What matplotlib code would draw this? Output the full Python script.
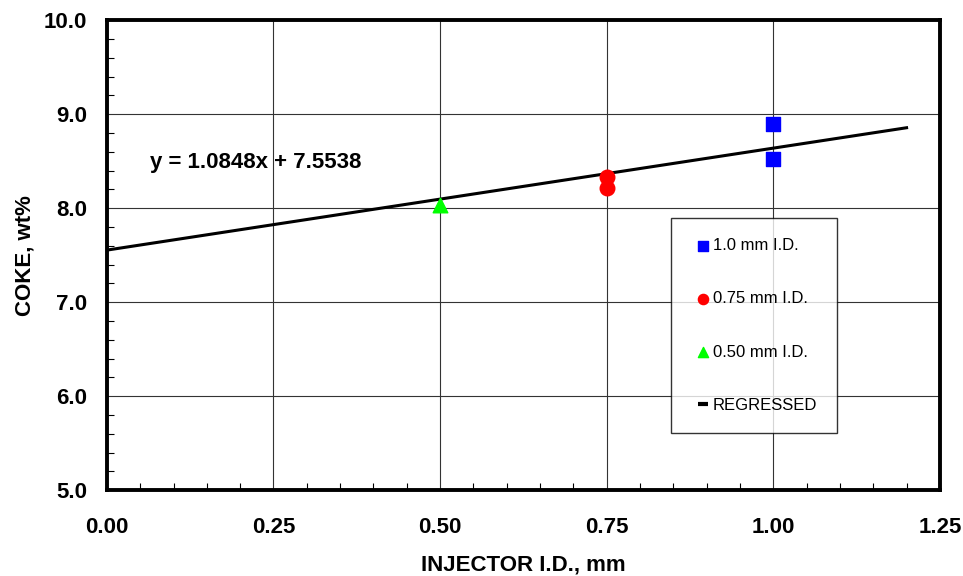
import numpy as np
import matplotlib
matplotlib.use("Agg")
from matplotlib import pyplot as plt
from matplotlib.lines import Line2D
from matplotlib.ticker import MultipleLocator

plt.rcParams['font.family'] = ['Liberation Sans', 'DejaVu Sans']

# coke yield by injector diameter
x_10 = [1.0, 1.0]
y_10 = [8.90, 8.52]
x_075 = [0.75, 0.75]
y_075 = [8.33, 8.21]
x_050 = [0.50]
y_050 = [8.03]

slope = 1.0848
intercept = 7.5538
fit_x = np.array([0.0, 1.2])
fit_y = slope * fit_x + intercept

fig = plt.figure(figsize=(9.63, 5.76), dpi=100)
ax = fig.add_axes([0.111, 0.149, 0.865, 0.816])

ax.plot(fit_x, fit_y, color="black", lw=2.2, zorder=3)
h10 = ax.scatter(x_10, y_10, marker="s", s=110, color="#0000ff", zorder=4)
h075 = ax.scatter(x_075, y_075, marker="o", s=110, color="#ff0000", zorder=4)
h050 = ax.scatter(x_050, y_050, marker="^", s=110, color="#00ff00", zorder=4)

ax.text(0.065, 8.49, "y = 1.0848x + 7.5538", fontsize=16, fontweight="bold", va="center")

ax.set_xlim(0, 1.25)
ax.set_ylim(5, 10)
ax.xaxis.set_major_locator(MultipleLocator(0.25))
ax.xaxis.set_minor_locator(MultipleLocator(0.05))
ax.yaxis.set_major_locator(MultipleLocator(1.0))
ax.yaxis.set_minor_locator(MultipleLocator(0.2))
ax.xaxis.set_major_formatter(lambda v, p: f"{v:.2f}")
ax.yaxis.set_major_formatter(lambda v, p: f"{v:.1f}")
ax.grid(True, which="major", color="#333333", lw=0.8)
ax.tick_params(which="both", direction="in", length=5, width=0.8)
ax.tick_params(which="major", length=0, labelsize=16)
ax.tick_params(axis="x", which="major", pad=19)
ax.tick_params(axis="y", which="major", pad=14)
for lbl in ax.get_xticklabels() + ax.get_yticklabels():
    lbl.set_fontweight("bold")
for sp in ax.spines.values():
    sp.set_linewidth(2.8)

ax.set_xlabel("INJECTOR I.D., mm", fontsize=16, fontweight="bold", labelpad=12)
ax.set_ylabel("COKE, wt%", fontsize=16, fontweight="bold", labelpad=6)

# short dash for the regression line entry
reg_handle = Line2D([], [], ls="none", marker="_", markersize=11, mew=3, color="black")
handles = [h10, h075, h050, reg_handle]
labels = ["1.0 mm I.D.", "0.75 mm I.D.", "0.50 mm I.D.", "REGRESSED"]
leg = ax.legend(handles, labels,
                loc="upper left", bbox_to_anchor=(0.677, 0.579),
                fontsize=12, frameon=True, fancybox=False, edgecolor="black",
                handlelength=1.44, handletextpad=-0.12, labelspacing=2.3,
                borderpad=1.2, markerscale=0.7, borderaxespad=0)
leg.get_frame().set_linewidth(1.0)
leg.set_zorder(5)

fig.savefig("out.png", dpi=100)
